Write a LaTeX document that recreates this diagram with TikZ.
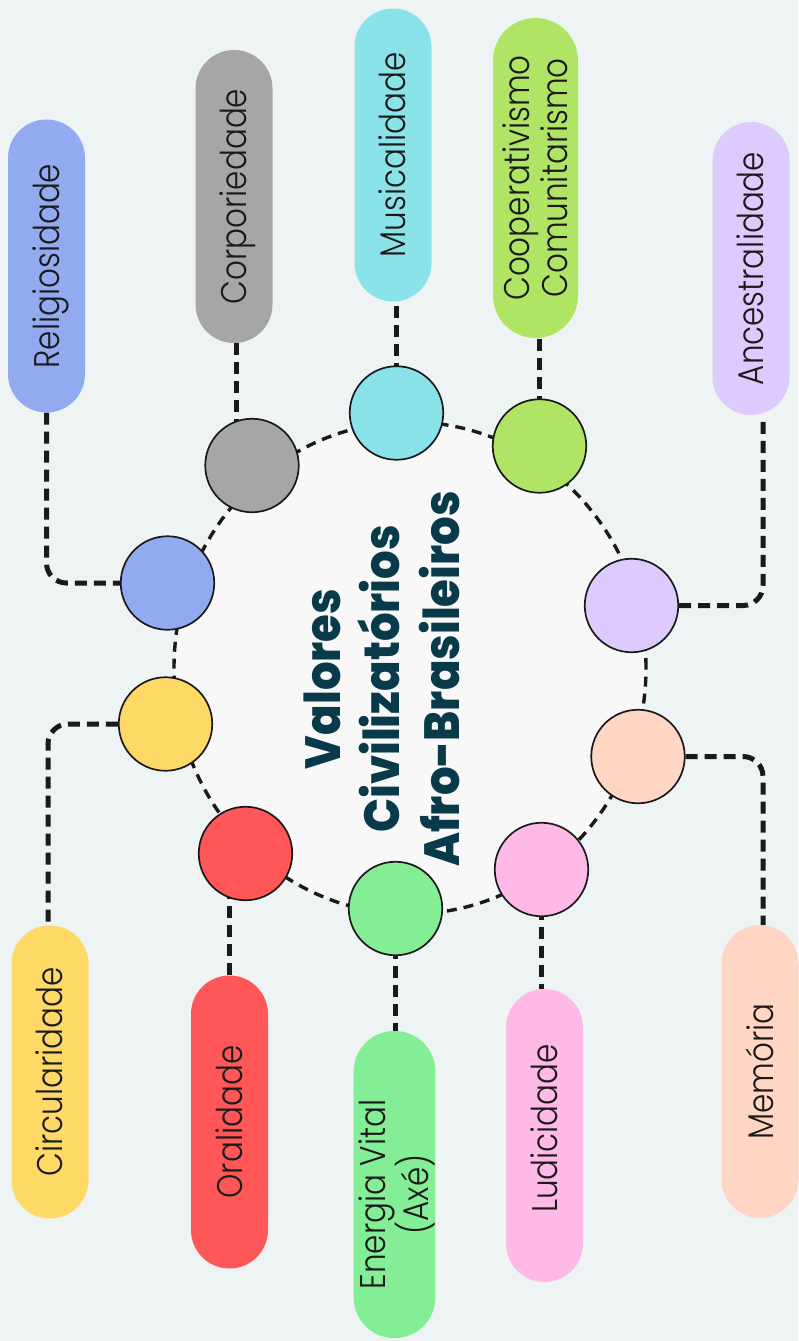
\documentclass[tikz,border=0pt]{standalone}
\usepackage{fontspec}
\usetikzlibrary{calc}
\IfFontExistsTF{Poppins Light}{\newfontfamily\lblfont{Poppins Light}}{\newfontfamily\lblfont{Poppins}}
\IfFontExistsTF{Poppins ExtraBold}{\newfontfamily\ttlfont{Poppins ExtraBold}}{\newfontfamily\ttlfont{Poppins Bold}}
\definecolor{bgcol}{HTML}{EEF3F3}
\definecolor{innercol}{HTML}{F8F8F8}
\definecolor{ttlcol}{HTML}{083A4A}
\definecolor{inkcol}{HTML}{1A1A1A}
\definecolor{cblue}{HTML}{91AAF0}
\definecolor{cgray}{HTML}{A6A6A6}
\definecolor{ccyan}{HTML}{8AE3E9}
\definecolor{clime}{HTML}{B0E465}
\definecolor{clav}{HTML}{DDCBFD}
\definecolor{cpeach}{HTML}{FFD6C4}
\definecolor{cpink}{HTML}{FFB9E6}
\definecolor{cmint}{HTML}{84EE97}
\definecolor{cred}{HTML}{FF5757}
\definecolor{cyel}{HTML}{FFD966}
\newcommand\lbltext[1]{\raisebox{-4.9pt}[\height][\depth]{\scalebox{1}[1.15]{\fontsize{31}{33}\selectfont\begin{tabular}{@{}c@{}}#1\end{tabular}}}}
\pgfdeclarelayer{bg}
\pgfsetlayers{bg,main}
\begin{document}
\begin{tikzpicture}[x=1pt,y=-1pt,
  pill/.style={rectangle, rounded corners=38.5pt, minimum width=293pt, minimum height=77pt,
    rotate=90, inner sep=0pt, text=inkcol, font=\lblfont},
  dot/.style={circle, draw=inkcol, line width=1.7pt, minimum size=93.5pt, inner sep=0pt},
  conn/.style={draw=inkcol, line width=5pt, dash pattern=on 12pt off 7pt},
  ring/.style={draw=inkcol, line width=3.4pt, dash pattern=on 10pt off 7pt}]
\useasboundingbox (0,0) rectangle (798,1341);

% circles
\node[dot, fill=cblue]  (blue)  at (167.5,583)   {};
\node[dot, fill=cgray]  (gray)  at (252,465.5)   {};
\node[dot, fill=ccyan]  (cyan)  at (396.5,413)   {};
\node[dot, fill=clime]  (lime)  at (539.5,446)   {};
\node[dot, fill=clav]   (lav)   at (631.5,605.5) {};
\node[dot, fill=cpeach] (peach) at (638,756.5)   {};
\node[dot, fill=cpink]  (pink)  at (541.5,869.5) {};
\node[dot, fill=cmint]  (mint)  at (395.5,908.5) {};
\node[dot, fill=cred]   (red)   at (245.5,853.5) {};
\node[dot, fill=cyel]   (yel)   at (165.5,724)   {};

% pills
\node[pill, fill=cblue]  (rel)  at (46.5,266)   {\lbltext{Religiosidade}};
\node[pill, fill=cgray]  (corp) at (234,196.5)  {\lbltext{Corporiedade}};
\node[pill, fill=ccyan]  (mus)  at (393,155)    {\lbltext{Musicalidade}};
\node[pill, fill=clime, minimum width=320pt, minimum height=85pt, rounded corners=42.5pt]
      (coop) at (535.5,178) {\lbltext{Cooperativismo\\Comunitarismo}};
\node[pill, fill=clav]   (anc)  at (751,268.5)  {\lbltext{Ancestralidade}};
\node[pill, fill=cyel]   (circ) at (50,1072)    {\lbltext{Circularidade}};
\node[pill, fill=cred]   (oral) at (229.5,1122) {\lbltext{Oralidade}};
\node[pill, fill=cmint, minimum width=307pt, minimum height=81pt, rounded corners=40.5pt]
      (ener) at (394.5,1184.5) {\hspace*{-20pt}\lbltext{Energia Vital\\[-1pt](Axé)}};
\node[pill, fill=cpink]  (lud)  at (544.5,1135.5) {\lbltext{Ludicidade}\hspace*{-14pt}};
\node[pill, fill=cpeach] (mem)  at (760,1071.5) {\lbltext{Memória}};

% title
\node[rotate=90, inner sep=0pt, text=ttlcol] (title) at (388,679)
      {\scalebox{1}[1.1]{\ttlfont\fontsize{45}{54.5}\selectfont
       \begin{tabular}{@{}c@{}}Valores\\Civilizatórios\\Afro-Brasileiros\end{tabular}}};

\coordinate (corpA) at ($(corp.west)+(2,0)$);
\coordinate (ancA)  at ($(anc.west)+(12,0)$);
\coordinate (memA)  at ($(mem.east)+(3,0)$);
\coordinate (circA) at ($(circ.east)+(-2,0)$);

\begin{pgfonlayer}{bg}
  \fill[bgcol] (0,0) rectangle (798,1341);
  \draw[ring, fill=innercol] (410,668) ellipse [x radius=236pt, y radius=246pt];
  \draw[conn, rounded corners=20pt] (rel.west) |- (blue.west);
  \draw[conn] (corpA) -- (corpA |- gray.center);
  \draw[conn] (cyan.center) -- (cyan.center |- mus.west);
  \draw[conn] (lime.center) -- (lime.center |- coop.west);
  \draw[conn, rounded corners=20pt] (lav.east) -| (ancA);
  \draw[conn, rounded corners=20pt] (peach.east) -| (memA);
  \draw[conn] (pink.center) -- (pink.center |- lud.east);
  \draw[conn] (mint.center) -- (mint.center |- ener.east);
  \draw[conn] (oral.east) -- (oral.east |- red.center);
  \draw[conn, rounded corners=20pt] (yel.west) -| (circA);
\end{pgfonlayer}
\end{tikzpicture}
\end{document}
